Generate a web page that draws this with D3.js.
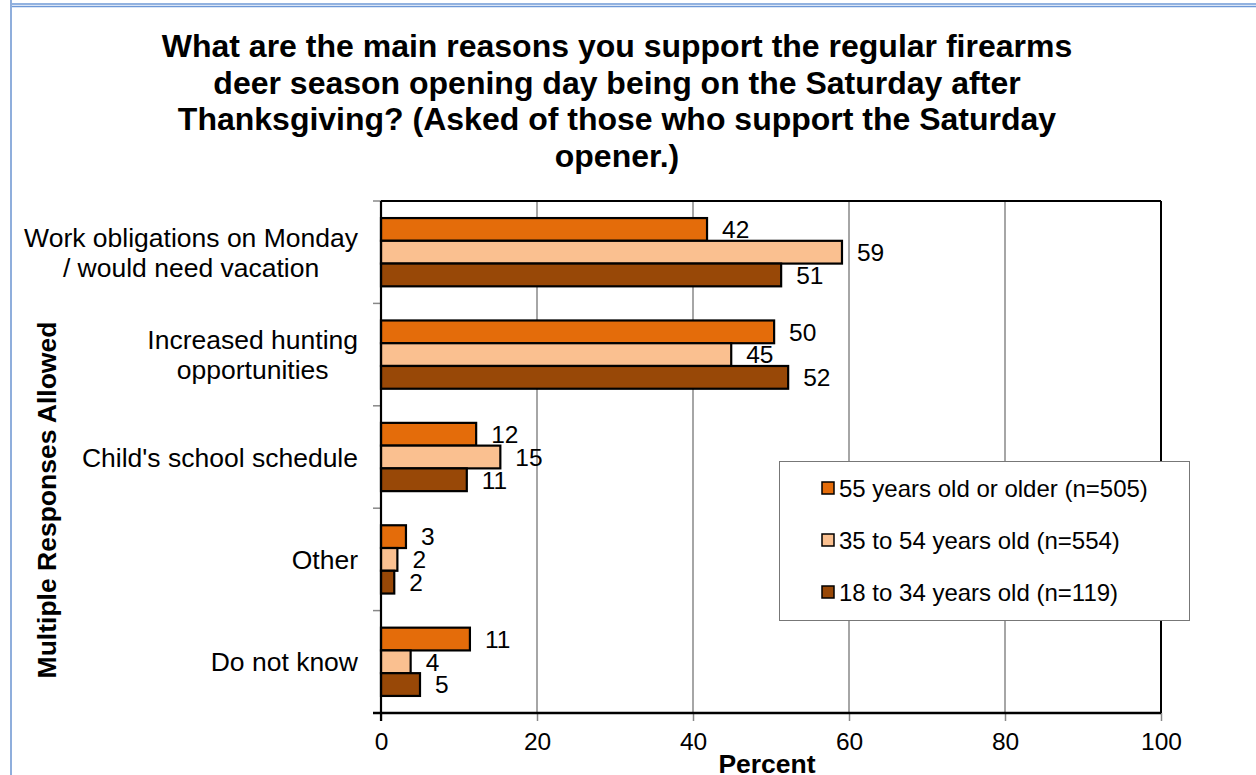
<!DOCTYPE html>
<html>
<head>
<meta charset="utf-8">
<script src="https://cdn.jsdelivr.net/npm/d3@7"></script>
<style>
html,body{margin:0;padding:0;background:#fff;}
svg{display:block;font-family:"Liberation Sans",Arial,sans-serif;}
</style>
</head>
<body>
<svg id="chart" width="1256" height="775"></svg>
<script>
const categories = ["Work obligations on Monday / would need vacation","Increased hunting opportunities","Child's school schedule","Other","Do not know"];
const categoryLines = [["Work obligations on Monday","/ would need vacation"],["Increased hunting","opportunities"],["Child's school schedule"],["Other"],["Do not know"]];
const seriesNames = ["55 years old or older (n=505)","35 to 54 years old (n=554)","18 to 34 years old (n=119)"];
const seriesColors = ["#E46C0A","#FAC090","#984807"];
const values55plus = [41.8,50.4,12.2,3.2,11.4];
const values35to54 = [59.1,44.9,15.3,2.1,3.8];
const values18to34 = [51.3,52.2,11.0,1.7,5.0];
const xTicks = [0,20,40,60,80,100];
const titleLines = ["What are the main reasons you support the regular firearms","deer season opening day being on the Saturday after","Thanksgiving? (Asked of those who support the Saturday","opener.)"];

const allSeries = [values55plus, values35to54, values18to34];
const svg = d3.select("#chart");

// outer frame
svg.append("line").attr("x1",11).attr("x2",1256).attr("y1",4).attr("y2",4).attr("stroke","#6E98D6").attr("stroke-width",1.5);
svg.append("line").attr("x1",11).attr("x2",1256).attr("y1",6.5).attr("y2",6.5).attr("stroke","#6E98D6").attr("stroke-width",1.5);
svg.append("line").attr("x1",11).attr("x2",11).attr("y1",0).attr("y2",775).attr("stroke","#8FAEDC").attr("stroke-width",2);

const L=381,R=1161,T=201,B=713;
const x = d3.scaleLinear().domain([0,100]).range([L,R]);
const y = d3.scaleBand().domain(categories).range([T,B]).padding(0);
const yi = d3.scaleBand().domain(d3.range(3)).range([0,y.bandwidth()]).paddingInner(0).paddingOuter(0.75);

// title
const title = svg.append("text").attr("text-anchor","middle").attr("font-weight","bold").attr("font-size",32).attr("fill","#000");
titleLines.forEach((t,i)=>title.append("tspan").attr("x",617).attr("y",57+i*36.5).text(t));

// gridlines
svg.append("g").selectAll("line").data(xTicks.filter(d=>d>0&&d<100)).join("line")
  .attr("x1",d=>x(d)).attr("x2",d=>x(d)).attr("y1",T).attr("y2",B)
  .attr("stroke","#888").attr("stroke-width",1.5);

// x axis
const xAxis = svg.append("g").attr("transform",`translate(0,${B})`)
  .call(d3.axisBottom(x).tickValues(xTicks).tickSize(8).tickPadding(8).tickFormat(d3.format("d")));
xAxis.select(".domain").remove();
xAxis.selectAll(".tick line").attr("stroke","#888").attr("stroke-width",1.5);
xAxis.selectAll(".tick text").attr("font-size",24.5).attr("fill","#000").attr("font-family","Liberation Sans, Arial, sans-serif").attr("dy","0.85em");

// y ticks at category boundaries
const bounds = categories.map(c=>y(c)).concat([B]);
svg.append("g").selectAll("line").data(bounds).join("line")
  .attr("x1",L-8).attr("x2",L).attr("y1",d=>d).attr("y2",d=>d)
  .attr("stroke","#888").attr("stroke-width",1.5);

// plot border
svg.append("line").attr("x1",L).attr("x2",R).attr("y1",T).attr("y2",T).attr("stroke","#000").attr("stroke-width",2);
svg.append("line").attr("x1",R).attr("x2",R).attr("y1",T).attr("y2",B).attr("stroke","#000").attr("stroke-width",2);

// bars
allSeries.forEach((vals,si)=>{
  const g = svg.append("g");
  g.selectAll("rect").data(vals).join("rect")
    .attr("x",x(0)).attr("y",(d,i)=>y(categories[i])+yi(si))
    .attr("width",d=>x(d)-x(0)).attr("height",yi.bandwidth())
    .attr("fill",seriesColors[si]).attr("stroke","#000").attr("stroke-width",2.2);
  g.selectAll("text").data(vals).join("text")
    .attr("x",d=>x(d)+15).attr("y",(d,i)=>y(categories[i])+yi(si)+yi.bandwidth()/2)
    .attr("dy","0.36em").attr("font-size",24.5).attr("fill","#000")
    .text(d=>Math.round(d));
});

// axes lines (left & bottom) on top
svg.append("line").attr("x1",L).attr("x2",L).attr("y1",T).attr("y2",B+8).attr("stroke","#000").attr("stroke-width",2.2);
svg.append("line").attr("x1",L-8).attr("x2",R).attr("y1",B).attr("y2",B).attr("stroke","#000").attr("stroke-width",2.5);

// category labels: block right-aligned at 357, lines centred within block
categories.forEach((c,i)=>{
  const lines = categoryLines[i];
  const cy = y(c)+y.bandwidth()/2;
  const t = svg.append("text").attr("text-anchor","middle").attr("font-size",26.5).attr("fill","#000");
  const spans = lines.map((ln,j)=>t.append("tspan").attr("y",cy+(j-(lines.length-1)/2)*30).attr("dy","0.36em").text(ln));
  const maxW = d3.max(spans,s=>s.node().getComputedTextLength());
  spans.forEach(s=>s.attr("x",358-maxW/2));
});

// axis titles
svg.append("text").attr("transform","translate(56,500) rotate(-90)").attr("text-anchor","middle")
  .attr("font-weight","bold").attr("font-size",26.5).text("Multiple Responses Allowed");
svg.append("text").attr("x",767).attr("y",773).attr("text-anchor","middle")
  .attr("font-weight","bold").attr("font-size",26.5).text("Percent");

// legend
const lg = svg.append("g");
lg.append("rect").attr("x",779.5).attr("y",461.5).attr("width",410).attr("height",159).attr("fill","#fff").attr("stroke","#777").attr("stroke-width",1);
seriesNames.forEach((n,i)=>{
  const cy = 488+i*52;
  lg.append("rect").attr("x",822).attr("y",cy-6).attr("width",12).attr("height",12).attr("fill",seriesColors[i]).attr("stroke","#000").attr("stroke-width",1.5);
  lg.append("text").attr("x",839).attr("y",cy).attr("dy","0.36em").attr("font-size",24).text(n);
});
</script>
</body>
</html>
